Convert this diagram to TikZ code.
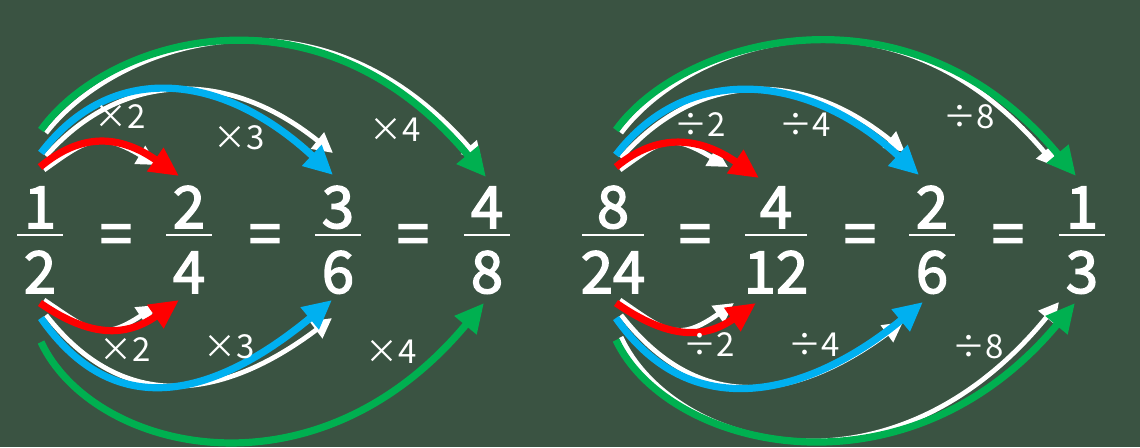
\documentclass[tikz,border=0pt]{standalone}
\usepackage{fontspec}
\setmainfont{Noto Sans CJK JP}
\newfontfamily\numfont{Noto Sans CJK JP}[FakeBold=2.6]
\usetikzlibrary{arrows.meta}
\definecolor{Board}{HTML}{3A5342}
\definecolor{ChalkRed}{HTML}{FF0000}
\definecolor{ChalkBlue}{HTML}{00B0F0}
\definecolor{ChalkGreen}{HTML}{00B050}

\begin{document}
\begin{tikzpicture}[x=0.5pt, y=-0.5pt,
        num/.style={text=white, anchor=base, inner sep=0pt, font=\numfont\fontsize{29}{29}\selectfont},
        lbl/.style={text=white, inner sep=0pt, font=\fontsize{16.5}{16.5}\selectfont},
        fbar/.style={white, line width=1.3pt},
        arr/.style={line width=3.6pt, -{Triangle[length=14.5pt,width=13.5pt]}},
        shade/.style={white, line width=2.4pt, -{Triangle[length=10pt,width=10pt]}}]
    \useasboundingbox (0,0) rectangle (1140,447);
    \fill[Board] (0,0) rectangle (1140,447);
    % multiplying
    \node[num] (a-n) at (40,228) {1};   \node[num] (a-d) at (40,293) {2};   \draw[fbar] (17,235) -- (63,235);
    \node[num] (e1) at (116,255) {=};
    \node[num] (b-n) at (189,228) {2};  \node[num] (b-d) at (189,293) {4};  \draw[fbar] (166,235) -- (212,235);
    \node[num] (e2) at (265,255) {=};
    \node[num] (c-n) at (338,228) {3};  \node[num] (c-d) at (338,293) {6};  \draw[fbar] (315,235) -- (361,235);
    \node[num] (e3) at (413,255) {=};
    \node[num] (d-n) at (487,228) {4};  \node[num] (d-d) at (487,293) {8};  \draw[fbar] (464,235) -- (510,235);
    % dividing
    \node[num] (p-n) at (613,228) {8};  \node[num] (p-d) at (613,293) {24}; \draw[fbar] (582,235) -- (644,235);
    \node[num] (e4) at (695,255) {=};
    \node[num] (q-n) at (776,228) {4};  \node[num] (q-d) at (776,293) {12}; \draw[fbar] (745,235) -- (807,235);
    \node[num] (e5) at (860,255) {=};
    \node[num] (r-n) at (932,228) {2};  \node[num] (r-d) at (932,293) {6};  \draw[fbar] (909,235) -- (955,235);
    \node[num] (e6) at (1008,255) {=};
    \node[num] (s-n) at (1082,228) {1}; \node[num] (s-d) at (1082,293) {3}; \draw[fbar] (1059,235) -- (1105,235);

    \coordinate (Lrt-s) at (40,167);  \coordinate (Lrt-e) at (179,176);
    \coordinate (Lbt-s) at (41,153);  \coordinate (Lbt-e) at (333,175);
    \coordinate (Lgt-s) at (41,130);  \coordinate (Lgt-e) at (486,177);
    \coordinate (Lrb-s) at (40,303);  \coordinate (Lrb-e) at (179,300);
    \coordinate (Lbb-s) at (41,318);  \coordinate (Lbb-e) at (332,300);
    \coordinate (Lgb-s) at (41,342);  \coordinate (Lgb-e) at (484,303);
    \coordinate (Rrt-s) at (616,167); \coordinate (Rrt-e) at (759,178);
    \coordinate (Rbt-s) at (616,155); \coordinate (Rbt-e) at (919,175);
    \coordinate (Rgt-s) at (616,130); \coordinate (Rgt-e) at (1076,176);
    \coordinate (Rrb-s) at (616,303); \coordinate (Rrb-e) at (756,303);
    \coordinate (Rbb-s) at (616,318); \coordinate (Rbb-e) at (923,302);
    \coordinate (Rgb-s) at (616,340); \coordinate (Rgb-e) at (1075,303);

    \draw[shade] ([shift={(4,3)}]Lrt-s) .. controls +(42,-30) and +(-59,-35) .. ([shift={(-22,-11)}]Lrt-e);
    \draw[shade] ([shift={(5,3)}]Lbt-s) .. controls +(70,-80) and +(-112,-90) .. ([shift={(0,-22)}]Lbt-e);
    \draw[shade] ([shift={(5,3)}]Lgt-s) .. controls +(66,-86) and +(-168,-192) .. ([shift={(-4,-15)}]Lgt-e);
    \draw[shade] ([shift={(4,-3)}]Lrb-s) .. controls +(45,30) and +(-57,38) .. ([shift={(-22,5)}]Lrb-e);
    \draw[shade] ([shift={(5,-3)}]Lbb-s) .. controls +(78,100) and +(-109,82) .. ([shift={(0,18)}]Lbb-e);
    \draw[shade] ([shift={(4,3)}]Rrt-s) .. controls +(42,-30) and +(-59,-35) .. ([shift={(-31,-11)}]Rrt-e);
    \draw[shade] ([shift={(5,3)}]Rbt-s) .. controls +(70,-80) and +(-112,-90) .. ([shift={(-14,-23)}]Rbt-e);
    \draw[shade] ([shift={(5,3)}]Rgt-s) .. controls +(66,-88) and +(-168,-198) .. ([shift={(-19,-9)}]Rgt-e);
    \draw[shade] ([shift={(4,-3)}]Rrb-s) .. controls +(45,31) and +(-57,40) .. ([shift={(-22,0)}]Rrb-e);
    \draw[shade] ([shift={(5,-3)}]Rbb-s) .. controls +(78,100) and +(-109,80) .. ([shift={(-20,20)}]Rbb-e);
    \draw[shade] ([shift={(5,-3)}]Rgb-s) .. controls +(51,110) and +(-170,208) .. ([shift={(-16,-1)}]Rgb-e);

    \draw[arr, ChalkRed] (Lrt-s) .. controls +(42,-35) and +(-59,-41) .. (Lrt-e);
    \draw[arr, ChalkBlue] (Lbt-s) .. controls +(70,-92) and +(-112,-104) .. (Lbt-e);
    \draw[arr, ChalkGreen] (Lgt-s) .. controls +(66,-92) and +(-168,-202) .. (Lgt-e);
    \draw[arr, ChalkRed] (Lrb-s) .. controls +(45,31) and +(-57,40) .. (Lrb-e);
    \draw[arr, ChalkBlue] (Lbb-s) .. controls +(78,112) and +(-109,90) .. (Lbb-e);
    \draw[arr, ChalkGreen] (Lgb-s) .. controls +(51,109) and +(-170,204) .. (Lgb-e);
    \draw[arr, ChalkRed] (Rrt-s) .. controls +(42,-35) and +(-59,-41) .. (Rrt-e);
    \draw[arr, ChalkBlue] (Rbt-s) .. controls +(70,-92) and +(-112,-104) .. (Rbt-e);
    \draw[arr, ChalkGreen] (Rgt-s) .. controls +(66,-92) and +(-168,-202) .. (Rgt-e);
    \draw[arr, ChalkRed] (Rrb-s) .. controls +(45,31) and +(-57,40) .. (Rrb-e);
    \draw[arr, ChalkBlue] (Rbb-s) .. controls +(78,112) and +(-109,90) .. (Rbb-e);
    \draw[arr, ChalkGreen] (Rgb-s) .. controls +(51,109) and +(-170,204) .. (Rgb-e);

    \node[lbl] (m2t) at (120,117) {×2};
    \node[lbl] (m3t) at (239,138) {×3};
    \node[lbl] (m4t) at (395,130) {×4};
    \node[lbl] (m2b) at (125,350) {×2};
    \node[lbl] (m3b) at (229,347) {×3};
    \node[lbl] (m4b) at (391,352) {×4};
    \node[lbl] (d2t) at (700,125) {÷2};
    \node[lbl] (d4t) at (805,125) {÷4};
    \node[lbl] (d8t) at (969,117) {÷8};
    \node[lbl] (d2b) at (709,345) {÷2};
    \node[lbl] (d4b) at (814,345) {÷4};
    \node[lbl] (d8b) at (978,347) {÷8};
\end{tikzpicture}
\end{document}
